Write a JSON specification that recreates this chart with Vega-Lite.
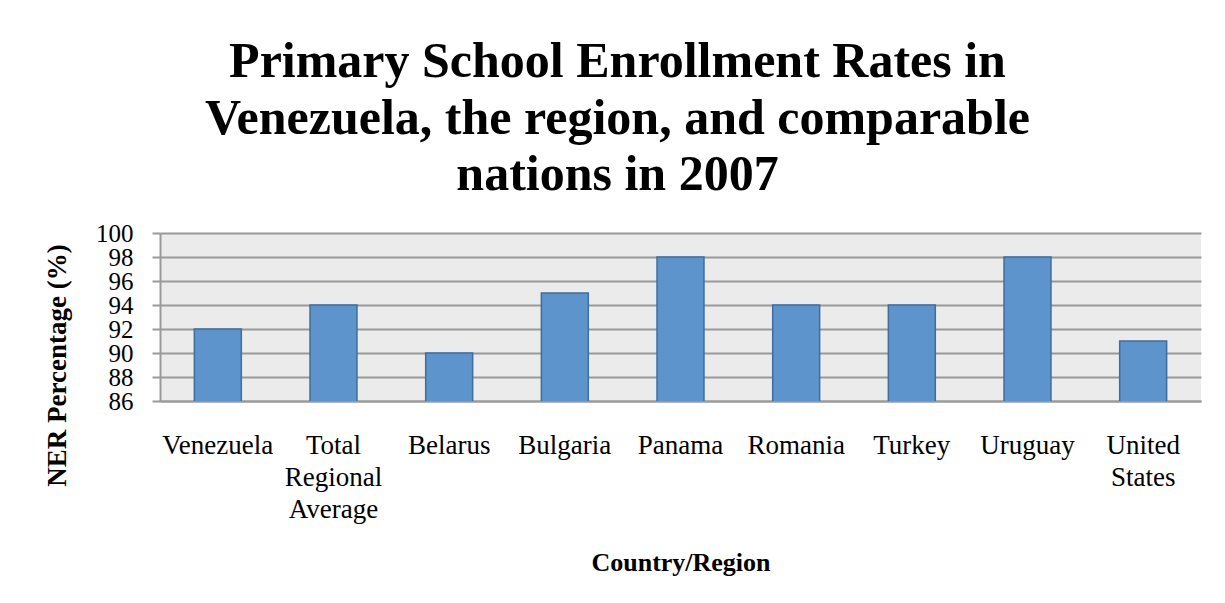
{
  "$schema": "https://vega.github.io/schema/vega-lite/v6.json",
  "autosize": {"type": "none"},
  "width": 1041,
  "height": 168,
  "padding": {"left": 160, "top": 233, "right": 24, "bottom": 202},
  "background": "white",
  "title": {
    "text": ["Primary School Enrollment Rates in", "Venezuela, the region, and comparable", "nations in 2007"],
    "anchor": "middle",
    "frame": "group",
    "dx": -63,
    "dy": 63,
    "offset": 34,
    "baseline": "bottom",
    "lineHeight": 56.5,
    "font": "Liberation Serif",
    "fontSize": 50,
    "fontWeight": "bold",
    "color": "#000000"
  },
  "data": {
    "values": [
      {"country": "Venezuela", "ner": 92},
      {"country": "Total Regional Average", "ner": 94},
      {"country": "Belarus", "ner": 90},
      {"country": "Bulgaria", "ner": 95},
      {"country": "Panama", "ner": 98},
      {"country": "Romania", "ner": 94},
      {"country": "Turkey", "ner": 94},
      {"country": "Uruguay", "ner": 98},
      {"country": "United States", "ner": 91}
    ]
  },
  "mark": {"type": "bar", "fill": "#5c94cb", "stroke": "#3f6e9e", "strokeWidth": 1.5, "clip": true},
  "encoding": {
    "x": {
      "field": "country",
      "type": "nominal",
      "sort": null,
      "scale": {"paddingInner": 0.594, "paddingOuter": 0.297},
      "axis": {
        "title": "Country/Region",
        "titleFont": "Liberation Serif",
        "titleFontSize": 26,
        "titleFontWeight": "bold",
        "titleColor": "#000000",
        "titleBaseline": "alphabetic",
        "titleY": 169,
        "labelAngle": 0,
        "labelFont": "Liberation Serif",
        "labelFontSize": 27,
        "labelColor": "#000000",
        "labelBaseline": "alphabetic",
        "labelPadding": 52,
        "labelLineHeight": 32,
        "labelExpr": "split(datum.label, ' ')",
        "ticks": false,
        "tickSize": 0,
        "domainColor": "#999999",
        "domainWidth": 2,
        "grid": false
      }
    },
    "y": {
      "field": "ner",
      "type": "quantitative",
      "scale": {"domain": [86, 100], "nice": false, "zero": false},
      "axis": {
        "title": "NER Percentage (%)",
        "titleFont": "Liberation Serif",
        "titleFontSize": 27,
        "titleFontWeight": "bold",
        "titleColor": "#000000",
        "titleBaseline": "alphabetic",
        "titleAngle": -90,
        "titleX": -95,
        "titleY": 132,
        "values": [86, 88, 90, 92, 94, 96, 98, 100],
        "labelFont": "Liberation Serif",
        "labelFontSize": 25,
        "labelColor": "#000000",
        "labelPadding": 19,
        "labelBaseline": "middle",
        "labelOverlap": false,
        "labelFlush": false,
        "tickSize": 8,
        "tickColor": "#999999",
        "tickWidth": 2,
        "domainColor": "#999999",
        "domainWidth": 2,
        "gridColor": "#999999",
        "gridWidth": 2
      }
    }
  },
  "config": {
    "view": {"fill": "#ebebeb", "stroke": null}
  }
}
